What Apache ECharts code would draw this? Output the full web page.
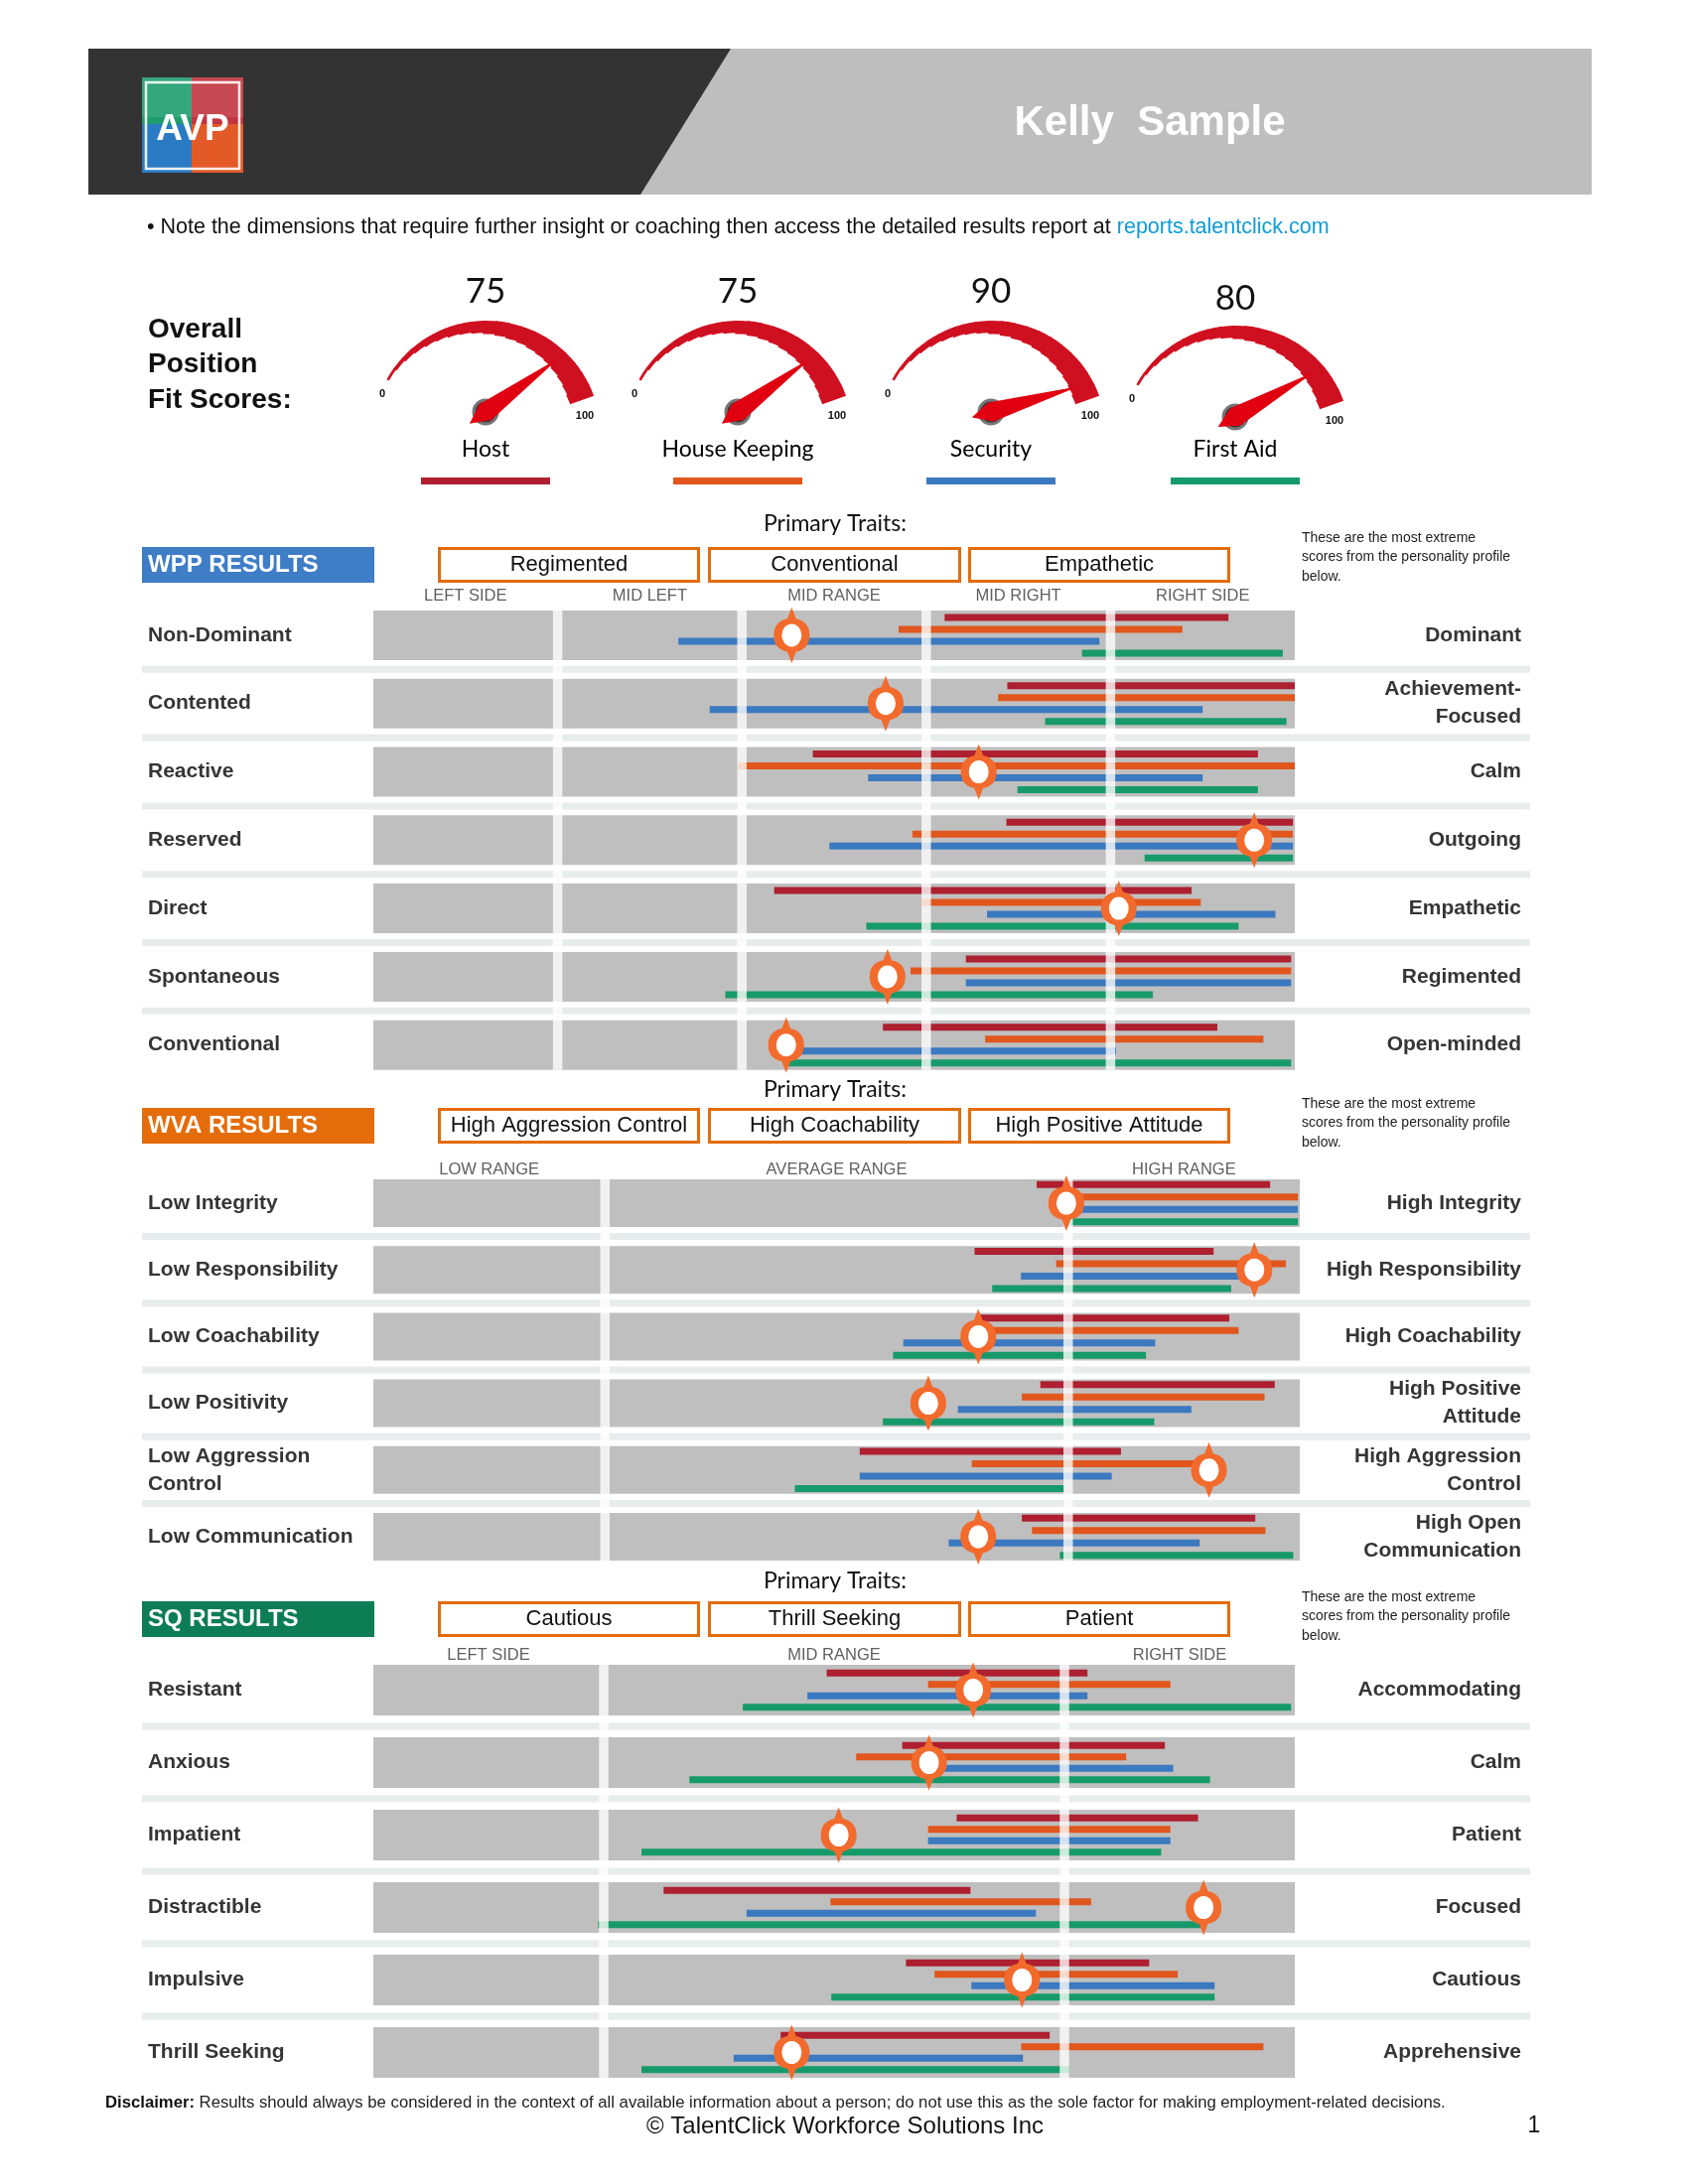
<!DOCTYPE html>
<html><head><meta charset="utf-8">
<script src="https://cdn.jsdelivr.net/npm/echarts@6/dist/echarts.min.js"></script>
<style>html,body{margin:0;padding:0;background:#fff}#c{width:1700px;height:2200px}</style>
</head><body><div id="c"></div>
<script>
// ---------------- DATA ----------------
const gaugeNames = ['Host', 'House Keeping', 'Security', 'First Aid'];
const gaugeScores = [75, 75, 90, 80];

// WPP
const wppLeft = ['Non-Dominant', 'Contented', 'Reactive', 'Reserved', 'Direct', 'Spontaneous', 'Conventional'];
const wppRight = ['Dominant', 'Achievement-\nFocused', 'Calm', 'Outgoing', 'Empathetic', 'Regimented', 'Open-minded'];
const wppTraits = ['Regimented', 'Conventional', 'Empathetic'];
const wppColumns = ['LEFT SIDE', 'MID LEFT', 'MID RANGE', 'MID RIGHT', 'RIGHT SIDE'];
const wppBounds = [0, 20, 40, 60, 80, 100];
const wppHost = [[62.0, 92.8], [68.8, 100], [47.7, 96.0], [68.7, 99.8], [43.5, 88.8], [64.3, 99.6], [55.3, 91.6]];
const wppHouseKeeping = [[57.0, 87.8], [67.8, 100], [39.6, 100], [58.5, 99.8], [59.5, 89.8], [58.3, 99.6], [66.4, 96.6]];
const wppSecurity = [[33.1, 78.8], [36.5, 90.0], [53.7, 90.0], [49.5, 99.8], [66.6, 97.9], [64.3, 99.6], [44.8, 80.6]];
const wppFirstAid = [[76.9, 98.7], [72.9, 99.1], [69.9, 96.0], [83.7, 99.8], [53.5, 93.9], [38.2, 84.6], [44.8, 99.6]];
const wppScore = [45.4, 55.6, 65.7, 95.6, 80.9, 55.8, 44.8];

// WVA
const wvaLeft = ['Low Integrity', 'Low Responsibility', 'Low Coachability', 'Low Positivity', 'Low Aggression\nControl', 'Low Communication'];
const wvaRight = ['High Integrity', 'High Responsibility', 'High Coachability', 'High Positive\nAttitude', 'High Aggression\nControl', 'High Open\nCommunication'];
const wvaTraits = ['High Aggression Control', 'High Coachability', 'High Positive Attitude'];
const wvaColumns = ['LOW RANGE', 'AVERAGE RANGE', 'HIGH RANGE'];
const wvaBounds = [0, 25, 75, 100];
const wvaHost = [[71.6, 96.8], [64.9, 90.7], [65.3, 92.4], [72.0, 97.3], [52.5, 80.7], [70.0, 95.2]];
const wvaHouseKeeping = [[74.8, 99.8], [73.7, 98.5], [65.3, 93.4], [70.0, 96.2], [64.6, 90.2], [71.1, 96.3]];
const wvaSecurity = [[74.8, 99.8], [69.9, 93.5], [57.2, 84.4], [63.1, 88.3], [52.5, 79.7], [62.1, 89.2]];
const wvaFirstAid = [[74.6, 99.8], [66.8, 92.6], [56.1, 83.4], [55.0, 84.3], [45.5, 74.6], [74.1, 99.3]];
const wvaScore = [74.8, 95.1, 65.3, 59.9, 90.2, 65.3];

// SQ
const sqLeft = ['Resistant', 'Anxious', 'Impatient', 'Distractible', 'Impulsive', 'Thrill Seeking'];
const sqRight = ['Accommodating', 'Calm', 'Patient', 'Focused', 'Cautious', 'Apprehensive'];
const sqTraits = ['Cautious', 'Thrill Seeking', 'Patient'];
const sqColumns = ['LEFT SIDE', 'MID RANGE', 'RIGHT SIDE'];
const sqBounds = [0, 25, 75, 100];
const sqHost = [[49.2, 77.5], [57.4, 85.9], [63.3, 89.5], [31.5, 64.8], [57.8, 84.2], [44.2, 73.4]];
const sqHouseKeeping = [[60.2, 86.5], [52.4, 81.7], [60.2, 86.5], [49.6, 77.9], [60.9, 87.3], [70.3, 96.6]];
const sqSecurity = [[47.1, 77.5], [60.4, 86.8], [60.2, 86.5], [40.5, 71.9], [64.9, 91.3], [39.1, 70.5]];
const sqFirstAid = [[40.1, 99.6], [34.3, 90.8], [29.1, 85.5], [24.4, 90.2], [49.7, 91.3], [29.1, 75.5]];
const sqScore = [65.1, 60.3, 50.5, 90.1, 70.4, 45.4];

// ---------------- STYLE / LAYOUT ----------------
const FONT = "'Liberation Sans', Arial, Helvetica, sans-serif";
const FONT2 = "Lato, 'Open Sans', sans-serif";
const PROFILE_COLORS = ['#ae1f2f', '#e0561d', '#3b79c0', '#179a6b'];
const GAUGE_X = [489, 743, 998, 1244];
const GAUGE_Y = [415, 415, 415, 420];
const MARKER_COLOR = '#f26a2c';
const GRID_LEFT = 376;
const LABEL_LEFT_X = 149, LABEL_RIGHT_X = 1532;
const BAND_L = 143, BAND_R = 1541;
const TRAIT_BOX_X = [[441, 705], [713, 968], [975, 1239]];
const NOTE_LINES = ['These are the most extreme', 'scores from the personality profile', 'below.'];

const sections = [
  { left: wppLeft, right: wppRight, traits: wppTraits, cols: wppColumns, bounds: wppBounds,
    profiles: [wppHost, wppHouseKeeping, wppSecurity, wppFirstAid], score: wppScore,
    L: { top: 605.5, pitch: 68.8, gridRight: 1304, blockH: 50, barGap: 12, headerMargin: 5.5, interval: 10,
         boxColor: '#3f7dc6', title: 'WPP RESULTS', ptY: 528, boxY: 551, noteY: 542 } },
  { left: wvaLeft, right: wvaRight, traits: wvaTraits, cols: wvaColumns, bounds: wvaBounds,
    profiles: [wvaHost, wvaHouseKeeping, wvaSecurity, wvaFirstAid], score: wvaScore,
    L: { top: 1178.4, pitch: 67.2, gridRight: 1309, blockH: 48, barGap: 12.5, headerMargin: 0.4, interval: 12.5,
         boxColor: '#e46c0a', title: 'WVA RESULTS', ptY: 1098, boxY: 1116, noteY: 1112 } },
  { left: sqLeft, right: sqRight, traits: sqTraits, cols: sqColumns, bounds: sqBounds,
    profiles: [sqHost, sqHouseKeeping, sqSecurity, sqFirstAid], score: sqScore,
    L: { top: 1666, pitch: 73, gridRight: 1304, blockH: 51, barGap: 11.5, headerMargin: -1, interval: 12.5,
         boxColor: '#0d7d55', title: 'SQ RESULTS', ptY: 1593, boxY: 1613, noteY: 1609 } }
];

function txt(x, y, text, st) {
  return { type: 'text', x: x, y: y, silent: true,
    style: Object.assign({ text: text, fill: '#111', fontSize: 16, fontFamily: FONT, align: 'center', verticalAlign: 'middle' }, st || {}) };
}
function rect(x, y, w, h, fill, extra) {
  return { type: 'rect', silent: true, shape: { x: x, y: y, width: w, height: h }, style: Object.assign({ fill: fill }, extra || {}) };
}

const grids = [], xAxes = [], yAxes = [], series = [], graphics = [];

// ---------------- HEADER ----------------
graphics.push(rect(89, 49, 1514, 147, '#bebebe'));
graphics.push({ type: 'polygon', silent: true, shape: { points: [[89, 49], [736, 49], [645, 196], [89, 196]] }, style: { fill: '#333333' } });
// logo
graphics.push(rect(143, 78, 50, 47, '#1f9d6e'));
graphics.push(rect(193, 78, 52, 47, '#c13540'));
graphics.push(rect(143, 125, 50, 49, '#2b7bc4'));
graphics.push(rect(193, 125, 52, 49, '#e35a27'));
graphics.push(rect(143, 78, 102, 40, 'rgba(255,255,255,0.10)'));
graphics.push(rect(147, 83, 94, 87, 'none', { stroke: 'rgba(255,255,255,0.9)', lineWidth: 2.5 }));
graphics.push(txt(194, 131, 'AVP', { fill: '#fff', fontSize: 37, fontWeight: 'bold' }));
graphics.push(txt(1158, 124, 'Kelly  Sample', { fill: '#fff', fontSize: 42, fontWeight: 'bold' }));
// note line
graphics.push({ type: 'text', x: 148, y: 229, silent: true, style: {
  text: '{a|• Note the dimensions that require further insight or coaching then access the detailed results report at }{b|reports.talentclick.com}',
  verticalAlign: 'middle', align: 'left',
  rich: { a: { fill: '#111', fontSize: 21.5, fontFamily: FONT }, b: { fill: '#0f9bd7', fontSize: 21.5, fontFamily: FONT } } } });
// overall
graphics.push(txt(149, 332, 'Overall', { align: 'left', fontSize: 28, fontWeight: 'bold' }));
graphics.push(txt(149, 367.5, 'Position', { align: 'left', fontSize: 28, fontWeight: 'bold' }));
graphics.push(txt(149, 403, 'Fit Scores:', { align: 'left', fontSize: 28, fontWeight: 'bold' }));

// ---------------- GAUGES ----------------
const ARC_START = 151, ARC_END = 20, ARC_R = 115, NSEG = 20;
gaugeScores.forEach((score, g) => {
  const cx = GAUGE_X[g], cy = GAUGE_Y[g];
  for (let k = 0; k < NSEG; k++) {
    const a0 = ARC_START - (ARC_START - ARC_END) * k / NSEG;
    const a1 = ARC_START - (ARC_START - ARC_END) * (k + 1) / NSEG - (k < NSEG - 1 ? 0.8 : 0);
    const w = 2 + 24 * ((k + 0.5) / NSEG);
    series.push({ type: 'gauge', silent: true, center: [cx + 1, cy + 23], radius: ARC_R, startAngle: a0, endAngle: a1,
      min: 0, max: 100, axisLine: { show: true, roundCap: false, lineStyle: { width: w, color: [[1, '#cf1020']] } },
      splitLine: { show: false }, axisTick: { show: false }, axisLabel: { show: false },
      pointer: { show: false }, anchor: { show: false }, title: { show: false }, detail: { show: false }, progress: { show: false },
      data: [{ value: 0 }] });
  }
  series.push({ type: 'gauge', name: gaugeNames[g], silent: true, center: [cx, cy], radius: 92, startAngle: 136, endAngle: 3,
    min: 0, max: 100, axisLine: { show: false }, splitLine: { show: false }, axisTick: { show: false }, axisLabel: { show: false },
    progress: { show: false },
    pointer: { show: true, length: '100%', width: 10, itemStyle: { color: '#e0000f' } },
    anchor: { show: true, showAbove: false, size: 24, itemStyle: { color: '#3a3a3a', borderColor: '#767676', borderWidth: 3 } },
    title: { show: true, offsetCenter: [0, 453 - cy], fontSize: 23, color: '#000', fontFamily: FONT2 },
    detail: { show: true, offsetCenter: [0, (g === 3 ? -119 : -121)], fontSize: 35, fontWeight: 'normal', color: '#111', fontFamily: FONT2, formatter: '{value}' },
    data: [{ value: score, name: gaugeNames[g] }] });
  graphics.push(txt(cx - 104, cy - 18, '0', { fontSize: 11, fontWeight: 'bold' }));
  graphics.push(txt(cx + 100, cy + 4, '100', { fontSize: 11, fontWeight: 'bold' }));
  graphics.push(rect(cx - 65, 481, 130, 7, PROFILE_COLORS[g]));
});

// ---------------- SECTIONS ----------------
const MARKER_PATH = 'path://M18,0 L22,11 C31,13 34.5,19 34.5,27 C34.5,35 31,41 22,43 L18,54 L14,43 C5,41 1.5,35 1.5,27 C1.5,19 5,13 14,11 Z';
sections.forEach((s, gi) => {
  const L = s.L, n = s.left.length;
  const mids = [];
  for (let i = 0; i < s.bounds.length - 1; i++) mids.push((s.bounds[i] + s.bounds[i + 1]) / 2);
  grids.push({ left: GRID_LEFT, top: L.top, width: L.gridRight - GRID_LEFT, height: L.pitch * n, containLabel: false, outerBoundsMode: 'none' });
  xAxes.push({ gridIndex: gi, type: 'value', min: 0, max: 100, interval: L.interval, position: 'top',
    axisLine: { show: false }, axisTick: { show: false }, splitLine: { show: false },
    axisLabel: { show: true, margin: L.headerMargin, verticalAlign: 'middle', fontSize: 16.5, color: '#5f5f5f', fontFamily: FONT,
      showMinLabel: true, showMaxLabel: true, hideOverlap: false,
      formatter: function (v) { const i = mids.findIndex(m => Math.abs(m - v) < 1e-6); return i >= 0 ? s.cols[i] : ''; } } });
  const lab = { fontSize: 21, fontWeight: 'bold', color: '#353535', fontFamily: FONT, lineHeight: 28, interval: 0 };
  yAxes.push({ gridIndex: gi, type: 'category', data: s.left, inverse: true, position: 'left',
    axisLine: { show: false }, axisTick: { show: false }, splitLine: { show: false },
    axisLabel: Object.assign({ margin: GRID_LEFT - LABEL_LEFT_X, align: 'left' }, lab) });
  yAxes.push({ gridIndex: gi, type: 'category', data: s.right, inverse: true, position: 'right',
    axisLine: { show: false }, axisTick: { show: false }, splitLine: { show: false },
    axisLabel: Object.assign({ margin: LABEL_RIGHT_X - L.gridRight, align: 'right' }, lab) });

  // grey row blocks + separator bands
  series.push({ type: 'custom', xAxisIndex: gi, yAxisIndex: gi * 2, z: 1, silent: true, clip: false,
    data: s.left.map((_, i) => [0, i, 100]), encode: { x: [0, 2], y: 1 },
    renderItem: function (params, api) {
      const row = api.value(1);
      const p0 = api.coord([api.value(0), row]), p1 = api.coord([api.value(2), row]);
      const ch = [{ type: 'rect', shape: { x: p0[0], y: p0[1] - L.blockH / 2, width: p1[0] - p0[0], height: L.blockH }, style: { fill: '#bfbfbf' } }];
      if (row < n - 1) ch.push({ type: 'rect', shape: { x: BAND_L, y: p0[1] + L.pitch / 2 - 3.5, width: BAND_R - BAND_L, height: 7 }, style: { fill: '#e7ecec' } });
      return { type: 'group', children: ch };
    } });

  // profile bars
  const offs = [-1.5, -0.5, 0.5, 1.5].map(k => k * L.barGap);
  s.profiles.forEach((prof, k) => {
    series.push({ type: 'custom', name: gaugeNames[k], xAxisIndex: gi, yAxisIndex: gi * 2, z: 2, silent: true, clip: false,
      data: prof.map((r, i) => [r[0], i, r[1]]), encode: { x: [0, 2], y: 1 },
      renderItem: function (params, api) {
        const row = api.value(1);
        const a = api.coord([api.value(0), row]), b = api.coord([api.value(2), row]);
        return { type: 'rect', shape: { x: a[0], y: a[1] + offs[k] - 3.5, width: b[0] - a[0], height: 7 }, style: { fill: PROFILE_COLORS[k] } };
      } });
  });

  // column separators
  const inner = s.bounds.slice(1, -1);
  series.push({ type: 'custom', xAxisIndex: gi, yAxisIndex: gi * 2, z: 3, silent: true, clip: false,
    data: inner.map(b => [b, 0, b]), encode: { x: [0, 2], y: 1 },
    renderItem: function (params, api) {
      const cs = params.coordSys;
      const x = api.coord([api.value(0), 0])[0];
      const pad = (L.pitch - L.blockH) / 2;
      return { type: 'rect', shape: { x: x - 4.75, y: cs.y + pad, width: 9.5, height: cs.height - 2 * pad }, style: { fill: 'rgba(255,255,255,0.78)' } };
    } });

  // score markers
  series.push({ type: 'scatter', xAxisIndex: gi, yAxisIndex: gi * 2, z: 4, silent: true, clip: false,
    symbol: MARKER_PATH, symbolSize: [36, 56], itemStyle: { color: MARKER_COLOR, opacity: 1 },
    data: s.score.map((v, i) => [v, i]) });
  series.push({ type: 'scatter', xAxisIndex: gi, yAxisIndex: gi * 2, z: 5, silent: true, clip: false,
    symbol: 'circle', symbolSize: [20, 23], itemStyle: { color: '#ffffff', opacity: 1 },
    data: s.score.map((v, i) => [v, i]) });

  // section decorations
  graphics.push(rect(143, L.boxY, 234, 36, L.boxColor));
  graphics.push(txt(149, L.boxY + 18, L.title, { fill: '#fff', fontSize: 24, fontWeight: 'bold', align: 'left' }));
  graphics.push(txt(841, L.ptY, 'Primary Traits:', { fontFamily: FONT2, fontSize: 23, fill: '#111' }));
  TRAIT_BOX_X.forEach((bx, i) => {
    graphics.push(rect(bx[0] + 1.5, L.boxY + 1.5, bx[1] - bx[0] - 3, 33, '#fff', { stroke: '#e46c0a', lineWidth: 3 }));
    graphics.push(txt((bx[0] + bx[1]) / 2, L.boxY + 18, s.traits[i], { fontSize: 22, fill: '#111' }));
  });
  NOTE_LINES.forEach((t, i) => graphics.push(txt(1311, L.noteY + i * 19.5, t, { fontSize: 14, fill: '#222', align: 'left' })));
});

// ---------------- FOOTER ----------------
graphics.push({ type: 'text', x: 106, y: 2118, silent: true, style: {
  text: '{d|Disclaimer:}{r| Results should always be considered in the context of all available information about a person; do not use this as the sole factor for making employment-related decisions.}',
  verticalAlign: 'middle', align: 'left',
  rich: { d: { fill: '#111', fontSize: 16.7, fontWeight: 'bold', fontFamily: FONT }, r: { fill: '#222', fontSize: 16.7, fontFamily: FONT } } } });
graphics.push(txt(851, 2142, '© TalentClick Workforce Solutions Inc', { fontSize: 24, fill: '#111' }));
graphics.push(txt(1545, 2142, '1', { fontSize: 23, fill: '#111' }));

const chart = echarts.init(document.getElementById('c'), null, { renderer: 'canvas', width: 1700, height: 2200 });
chart.setOption({
  animation: false,
  backgroundColor: '#ffffff',
  grid: grids, xAxis: xAxes, yAxis: yAxes, series: series,
  graphic: { elements: graphics }
});
</script>
</body></html>
